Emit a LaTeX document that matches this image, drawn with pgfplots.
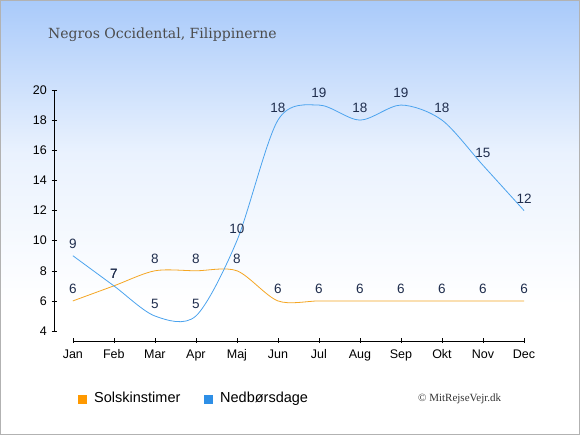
\documentclass[border=0pt]{standalone}
\usepackage{pgfplots}
\pgfplotsset{compat=1.18}
\usepackage{fontspec}
\setmainfont{Liberation Sans}
\newfontfamily\titlefont{DejaVu Serif}
\newfontfamily\copyfont{Liberation Serif}
\definecolor{bgtop}{HTML}{A9CAFA}
\definecolor{sunc}{HTML}{F5A623}
\definecolor{rainc}{HTML}{4BA3EE}
\definecolor{sunleg}{HTML}{FF9900}
\definecolor{rainleg}{HTML}{2E8FE6}
\definecolor{lbl}{HTML}{1F2D4D}
\begin{document}
\begin{tikzpicture}[x=1pt,y=1pt]
\shade[top color=bgtop, bottom color=white, middle color=bgtop!25] (0,435) rectangle (580,130);
\fill[white] (0,0) rectangle (580,130);
\draw[gray!60, line width=1pt] (0.5,0.5) rectangle (579.5,434.5);
\node[anchor=base west, inner sep=0pt, text=black!70, font=\titlefont\fontsize{14}{16}\selectfont] at (48,396) {Negros Occidental, Filippinerne};
% y axis
\pgfmathsetmacro\yfour{94+(4-3.34)*251/16.66}
\pgfmathsetmacro\ytwenty{94+(20-3.34)*251/16.66}
\draw[black] (54,\yfour) -- (54,\ytwenty);
\foreach \v in {4,6,...,20} {
  \pgfmathsetmacro\yy{94+(\v-3.34)*251/16.66}
  \draw[black] (51.5,\yy) -- (56.5,\yy);
  \node[anchor=east, inner sep=0pt, font=\fontsize{12.5}{14}\selectfont] at (47,\yy) {\v};
}
% x axis
\pgfmathsetmacro\xjan{54+(0.46)*470/11.46}
\pgfmathsetmacro\xdec{54+(11.46)*470/11.46}
\draw[black] (\xjan,94) -- (\xdec,94);
\foreach \i/\m in {0/Jan,1/Feb,2/Mar,3/Apr,4/Maj,5/Jun,6/Jul,7/Aug,8/Sep,9/Okt,10/Nov,11/Dec} {
  \pgfmathsetmacro\xx{54+(\i+0.46)*470/11.46}
  \draw[black] (\xx,96.5) -- (\xx,91.5);
  \node[anchor=base, inner sep=0pt, font=\fontsize{12.5}{14}\selectfont] at (\xx,76) {\m};
}
\begin{axis}[
  at={(54pt,94pt)}, anchor=south west, scale only axis,
  width=470pt, height=251pt,
  xmin=-0.46, xmax=11, ymin=3.34, ymax=20,
  axis lines=none, clip=false,
  /pgf/number format/assume math mode=true,
]
\addplot[sunc, line width=0.8pt, smooth, tension=0.5,
  nodes near coords, every node near coord/.append style={text=lbl, font=\fontsize{13.5}{15}\selectfont, yshift=3.5pt}]
  coordinates {(0,6) (1,7) (2,8) (3,8) (4,8) (5,6) (6,6) (7,6) (8,6) (9,6) (10,6) (11,6)};
\addplot[rainc, line width=0.8pt, smooth, tension=0.5,
  nodes near coords, every node near coord/.append style={text=lbl, font=\fontsize{13.5}{15}\selectfont, yshift=3.5pt}]
  coordinates {(0,9) (1,7) (2,5) (3,5) (4,10) (5,18) (6,19) (7,18) (8,19) (9,18) (10,15) (11,12)};
\end{axis}
\fill[sunleg] (78,31) rectangle (87,40);
\node[anchor=base west, inner sep=0pt, font=\fontsize{14.5}{16}\selectfont] at (94,32) {Solskinstimer};
\fill[rainleg] (204,31) rectangle (213,40);
\node[anchor=base west, inner sep=0pt, font=\fontsize{14.5}{16}\selectfont] at (220,32) {Nedbørsdage};
\node[anchor=base west, inner sep=0pt, text=black!80, font=\copyfont\fontsize{11}{13}\selectfont] at (418,33) {© MitRejseVejr.dk};
\end{tikzpicture}
\end{document}
